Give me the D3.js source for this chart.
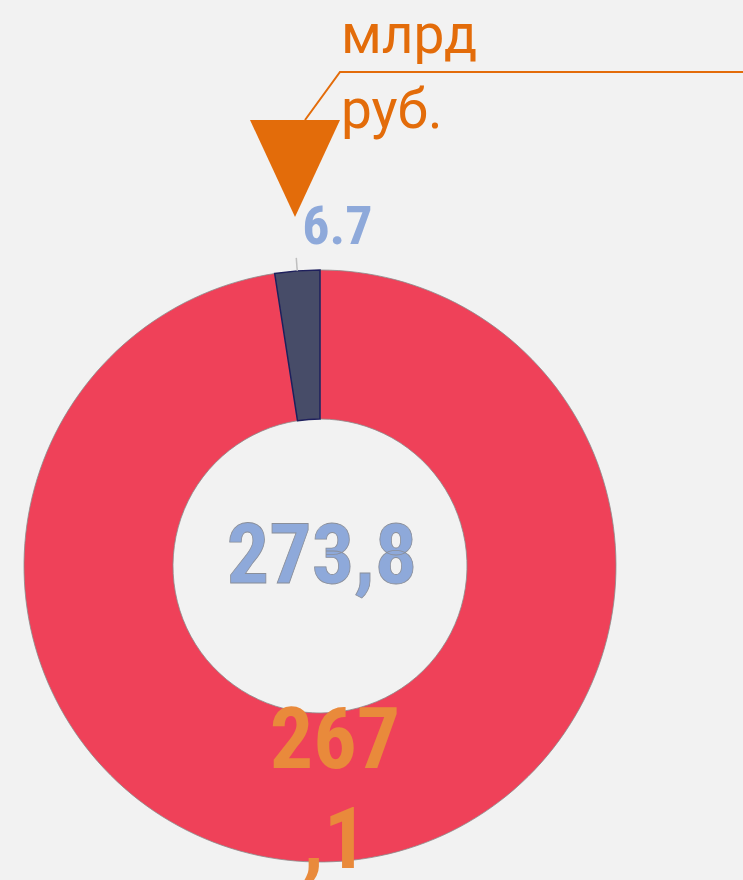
<!DOCTYPE html>
<html>
<head>
<meta charset="utf-8">
<script src="https://cdn.jsdelivr.net/npm/d3@7"></script>
<style>
  html, body { margin: 0; padding: 0; background: #f2f2f2; overflow: hidden; }
  text { font-family: "Roboto Condensed", Roboto, "Liberation Sans Narrow", sans-serif; }
  text.unit { font-family: Roboto, "Noto Sans", sans-serif; }
</style>
</head>
<body>
<div id="chart"></div>
<script>
// slices in drawing order (clockwise from 12 o'clock)
const categories = ['main', 'other'];
const values = [267.1, 6.7];
const valueLabels = [['267', ',1'], ['6.7']];
const totalLabel = '273,8';
const unitLines = ['млрд', 'руб.'];
const colors = ['#ef4159', '#474c68'];
const strokes = ['#8c8c8c', '#1e1f5c'];

const width = 743, height = 880;
const cx = 320, cy = 566;
const outerR = 296, innerR = 147;

const svg = d3.select('#chart').append('svg')
  .attr('width', width)
  .attr('height', height);

svg.append('rect').attr('width', width).attr('height', height).attr('fill', '#f2f2f2');

const pie = d3.pie().sort(null).value(d => d.value);
const arcs = pie(categories.map((c, i) => ({ name: c, value: values[i], i })));
const arc = d3.arc().innerRadius(innerR).outerRadius(outerR);

const g = svg.append('g').attr('transform', `translate(${cx},${cy})`);

g.selectAll('path.slice')
  .data(arcs)
  .enter()
  .append('path')
  .attr('class', 'slice')
  .attr('d', arc)
  .attr('fill', d => colors[d.data.i])
  .attr('stroke', d => strokes[d.data.i])
  .attr('stroke-width', d => d.data.i === 1 ? 1.5 : 0.8);

// big slice label: two lines around the centroid
const big = arcs[0];
const [bx, by] = arc.centroid(big);
const bigLabel = g.append('text')
  .attr('text-anchor', 'middle')
  .attr('font-weight', 700)
  .attr('font-size', 86)
  .attr('fill', '#e98a3b')
  .attr('transform', `translate(${bx - 2},${by})`);
valueLabels[0].forEach((t, k) => {
  bigLabel.append('tspan')
    .attr('x', 0)
    .attr('y', k === 0 ? -19 : 81)
    .text(t);
});

// small slice: tick and outside label
const small = arcs[1];
const mid = (small.startAngle + small.endAngle) / 2;
const pt = r => [r * Math.sin(mid), -r * Math.cos(mid)];
const [t1x, t1y] = pt(outerR);
const [t2x, t2y] = pt(outerR + 13);
g.append('line')
  .attr('x1', t1x).attr('y1', t1y)
  .attr('x2', t2x).attr('y2', t2y)
  .attr('stroke', '#bfbfbf')
  .attr('stroke-width', 1.5);

g.append('text')
  .attr('transform', `translate(${t2x + 6},${t2y - 14})`)
  .attr('font-weight', 700)
  .attr('font-size', 54)
  .attr('fill', '#8ea9da')
  .text(valueLabels[1][0]);

// total in the hole
g.append('text')
  .attr('text-anchor', 'middle')
  .attr('transform', `translate(2,17)`)
  .attr('font-weight', 700)
  .attr('font-size', 84)
  .attr('fill', '#8ea9da')
  .attr('stroke', '#8a8f9a')
  .attr('stroke-width', 0.8)
  .text(totalLabel);

// unit annotation with leader and marker
const orange = '#e36c0a';
svg.append('polyline')
  .attr('points', '305,120 340,72 743,72')
  .attr('fill', 'none')
  .attr('stroke', orange)
  .attr('stroke-width', 2);

svg.append('path')
  .attr('d', d3.line()([[250, 120], [340, 120], [295, 217]]) + 'Z')
  .attr('fill', orange);

const unit = svg.append('text')
  .attr('class', 'unit')
  .attr('font-size', 55)
  .attr('fill', orange)
  .attr('transform', 'translate(341,0)');
unitLines.forEach((t, k) => {
  unit.append('tspan').attr('x', 0).attr('y', 53 + k * 75).text(t);
});
</script>
</body>
</html>
